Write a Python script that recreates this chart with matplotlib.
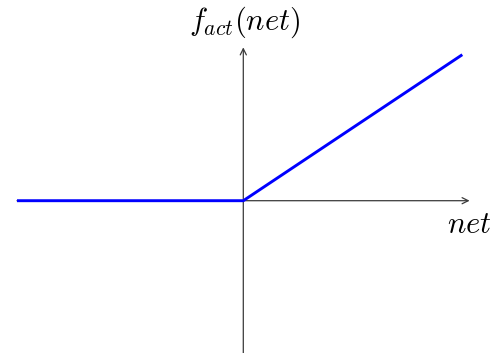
import matplotlib
matplotlib.use("Agg")
import matplotlib.pyplot as plt

plt.rcParams['mathtext.fontset'] = 'cm'

# ReLU activation data
net_vals = [-3.1, 0.0, 3.0]
act_vals = [0.0, 0.0, 2.0]

x_axis = (-3.1, 3.1)
y_axis = (-2.1, 2.1)

fig = plt.figure(figsize=(4.95, 3.53), dpi=100)
ax = fig.add_axes([0, 0, 1, 1])
ax.set_xlim(-3.333, 3.448)
ax.set_ylim(-2.086, 2.749)
ax.axis('off')

axis_col = '#3a3a3a'
arrow = dict(arrowstyle='->', color=axis_col, lw=0.9, shrinkA=0, shrinkB=0,
             mutation_scale=11)
ax.annotate('', xy=(x_axis[1], 0), xytext=(x_axis[0], 0), arrowprops=arrow)
ax.annotate('', xy=(0, y_axis[1]), xytext=(0, y_axis[0]), arrowprops=arrow)

ax.plot(net_vals, act_vals, color='#0000ff', lw=2.1, solid_capstyle='butt',
        solid_joinstyle='miter', zorder=3)

ax.text(0.02, 2.44, r'$f_{act}(net)$', ha='center', va='center', fontsize=22)
ax.text(3.1, -0.33, r'$net$', ha='center', va='center', fontsize=22)

fig.savefig('out.png', dpi=100)
